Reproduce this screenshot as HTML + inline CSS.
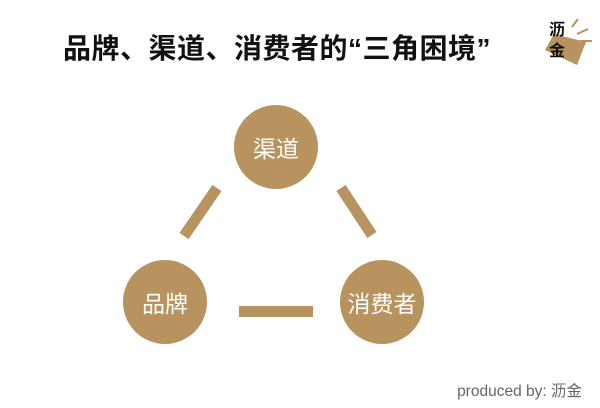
<!DOCTYPE html>
<html><head><meta charset="utf-8"><style>
body{margin:0;width:600px;height:408px;background:#fff;position:relative;overflow:hidden;font-family:"Liberation Sans","Noto Sans CJK SC",sans-serif}
.t{position:absolute;left:63px;top:27px;font-size:28px;font-weight:bold;color:#111;white-space:nowrap;letter-spacing:0.5px}
.c{position:absolute;width:84px;height:84px;border-radius:50%;background:#b8935f;color:#fff;font-size:23px;display:flex;align-items:center;justify-content:center}
.p{position:absolute;right:18px;top:379px;font-size:15.5px;color:#666}
</style></head><body>
<div class="t">品牌、渠道、消费者的“三角困境”</div>
<svg style="position:absolute;left:0;top:0" width="600" height="408">
<polygon points="554,34 586,42 577,65 545,50" fill="#b8935f"/>
<line x1="572" y1="27" x2="578" y2="19" stroke="#b8935f" stroke-width="2"/>
<line x1="577" y1="34" x2="588" y2="29" stroke="#b8935f" stroke-width="2"/>
<line x1="580" y1="41" x2="592" y2="41" stroke="#b8935f" stroke-width="2"/>
<line x1="217" y1="188" x2="184" y2="236" stroke="#b8935f" stroke-width="11"/>
<line x1="341" y1="188" x2="372" y2="235" stroke="#b8935f" stroke-width="11"/>
<rect x="239" y="306" width="74" height="11" fill="#b8935f"/>
</svg>
<div style="position:absolute;left:549px;top:20px;font-size:16px;font-weight:bold;line-height:21px;color:#111">沥<br>金</div>
<div class="c" style="left:234px;top:105px">渠道</div>
<div class="c" style="left:123px;top:260px">品牌</div>
<div class="c" style="left:340px;top:260px">消费者</div>
<div class="p">produced by: 沥金</div>
</body></html>
